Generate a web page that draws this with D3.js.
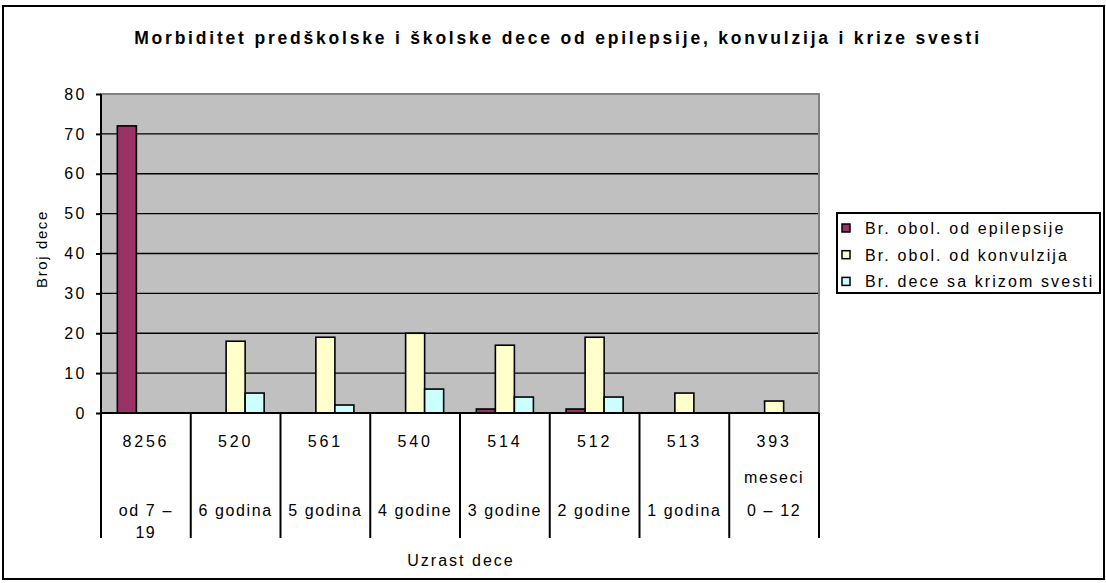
<!DOCTYPE html>
<html>
<head>
<meta charset="utf-8">
<script src="https://cdn.jsdelivr.net/npm/d3@7/dist/d3.min.js"></script>
<style>
  body { margin: 0; background: #fff; }
  svg text { font-family: "Liberation Sans", Arial, sans-serif; fill: #000; }
</style>
</head>
<body>
<div class="main"></div>
<script>
// data
const title = "Morbiditet predškolske i školske dece od epilepsije, konvulzija i krize svesti";
const counts = ["8256", "520", "561", "540", "514", "512", "513", "393"];
const units = ["", "", "", "", "", "", "", "meseci"];
const ages = [["od 7 –", "19"], ["6 godina"], ["5 godina"], ["4 godine"], ["3 godine"], ["2 godine"], ["1 godina"], ["0 – 12"]];
const seriesNames = ["Br. obol. od epilepsije", "Br. obol. od konvulzija", "Br. dece sa krizom svesti"];
const epilepsija = [72, null, null, null, 1, 1, null, null];
const konvulzije = [null, 18, 19, 20, 17, 19, 5, 3];
const kriza = [null, 5, 2, 6, 4, 4, null, null];
const yTicks = [0, 10, 20, 30, 40, 50, 60, 70, 80];
const colors = ["#993366", "#FFFFCC", "#CCFFFF"];

const w = 1106, h = 583;
const plot = {left: 101, right: 819, top: 94, bottom: 413};

const svg = d3.select(".main")
  .append("svg")
  .attr("width", w)
  .attr("height", h);

// outer frame
svg.append("rect")
  .attr("x", 3).attr("y", 6)
  .attr("width", 1101).attr("height", 573)
  .attr("fill", "#fff")
  .attr("stroke", "#000")
  .attr("stroke-width", 2);

svg.append("text")
  .attr("x", 558).attr("y", 44)
  .attr("text-anchor", "middle")
  .style("font-size", "17.5px")
  .style("font-weight", "bold")
  .style("letter-spacing", "2.8px")
  .text(title);

//scales
const idx = d3.range(counts.length);
const xScale = d3.scaleBand().domain(idx).range([plot.left, plot.right]);
const x1 = d3.scaleBand().domain([0, 1, 2]).range([0, xScale.bandwidth()]).paddingOuter(0.86);
const yScale = d3.scaleLinear().domain([0, 80]).range([plot.bottom, plot.top]);

// plot background
svg.append("rect")
  .attr("x", plot.left).attr("y", plot.top)
  .attr("width", plot.right - plot.left)
  .attr("height", plot.bottom - plot.top)
  .attr("fill", "#C0C0C0")
  .attr("stroke", "#808080")
  .attr("stroke-width", 2);

// gridlines
svg.append("g")
  .selectAll("line")
  .data(yTicks.filter(d => d > 0 && d < 80))
  .enter()
  .append("line")
  .attr("x1", plot.left).attr("x2", plot.right - 1)
  .attr("y1", d => yScale(d)).attr("y2", d => yScale(d))
  .attr("stroke", "#000")
  .attr("stroke-width", 1.3);

// bars
const series = [epilepsija, konvulzije, kriza];
const bars = [];
series.forEach((vals, s) => vals.forEach((v, i) => {
  if (v != null) bars.push({s, i, v});
}));

svg.append("g")
  .selectAll("rect")
  .data(bars)
  .enter()
  .append("rect")
  .attr("x", d => xScale(d.i) + x1(d.s))
  .attr("y", d => yScale(d.v))
  .attr("width", x1.bandwidth())
  .attr("height", d => yScale(0) - yScale(d.v))
  .attr("fill", d => colors[d.s])
  .attr("stroke", "#000")
  .attr("stroke-width", 1.6);

// y axis
const yAxis = d3.axisLeft(yScale).tickValues(yTicks).tickSize(5).tickPadding(9);
const yG = svg.append("g")
  .attr("transform", "translate(" + plot.left + ",0)")
  .call(yAxis);
yG.select(".domain").attr("stroke", "#000").attr("stroke-width", 2).attr("d", "M0," + plot.top + "V" + plot.bottom);
yG.selectAll(".tick line").attr("stroke-width", 2);
yG.selectAll("text").style("font-size", "16px").style("letter-spacing", "2.5px").attr("font-family", null);

svg.append("text")
  .attr("transform", "translate(47,249) rotate(-90)")
  .attr("text-anchor", "middle")
  .style("font-size", "15px")
  .style("letter-spacing", "1.6px")
  .text("Broj dece");

// category table under the axis
svg.append("line")
  .attr("x1", plot.left).attr("x2", plot.right)
  .attr("y1", plot.bottom).attr("y2", plot.bottom)
  .attr("stroke", "#000").attr("stroke-width", 2);

svg.append("g")
  .selectAll("line")
  .data(idx.concat([counts.length]))
  .enter()
  .append("line")
  .attr("x1", d => d < counts.length ? xScale(d) : plot.right)
  .attr("x2", d => d < counts.length ? xScale(d) : plot.right)
  .attr("y1", plot.bottom).attr("y2", 538)
  .attr("stroke", "#000").attr("stroke-width", 2);

const cat = svg.append("g")
  .selectAll("g")
  .data(idx)
  .enter()
  .append("g")
  .attr("transform", d => "translate(" + (xScale(d) + xScale.bandwidth() / 2) + ",0)")
  .attr("text-anchor", "middle")
  .style("font-size", "16px")
  .style("letter-spacing", "1.6px");

cat.append("text").attr("y", 447).style("letter-spacing", "2.8px").text(d => counts[d]);
cat.append("text").attr("y", 483).text(d => units[d]);
cat.each(function(d) {
  d3.select(this).selectAll("text.age")
    .data(ages[d])
    .enter()
    .append("text")
    .attr("class", "age")
    .attr("y", (t, k) => 516 + k * 22)
    .text(t => t);
});

svg.append("text")
  .attr("x", 461).attr("y", 566)
  .attr("text-anchor", "middle")
  .style("font-size", "16px")
  .style("letter-spacing", "2px")
  .text("Uzrast dece");

// legend
const legend = svg.append("g");
legend.append("rect")
  .attr("x", 837).attr("y", 213)
  .attr("width", 263).attr("height", 80)
  .attr("fill", "#fff")
  .attr("stroke", "#000")
  .attr("stroke-width", 2);

const li = legend.selectAll("g.item")
  .data(seriesNames)
  .enter()
  .append("g")
  .attr("class", "item")
  .attr("transform", (d, i) => "translate(0," + (228 + i * 26.7) + ")");
li.append("rect")
  .attr("x", 842).attr("y", -4)
  .attr("width", 8).attr("height", 8)
  .attr("fill", (d, i) => colors[i])
  .attr("stroke", "#000")
  .attr("stroke-width", 1.5);
li.append("text")
  .attr("x", 865).attr("y", 6)
  .style("font-size", "16px")
  .style("letter-spacing", "2.1px")
  .text(d => d);
</script>
</body>
</html>
